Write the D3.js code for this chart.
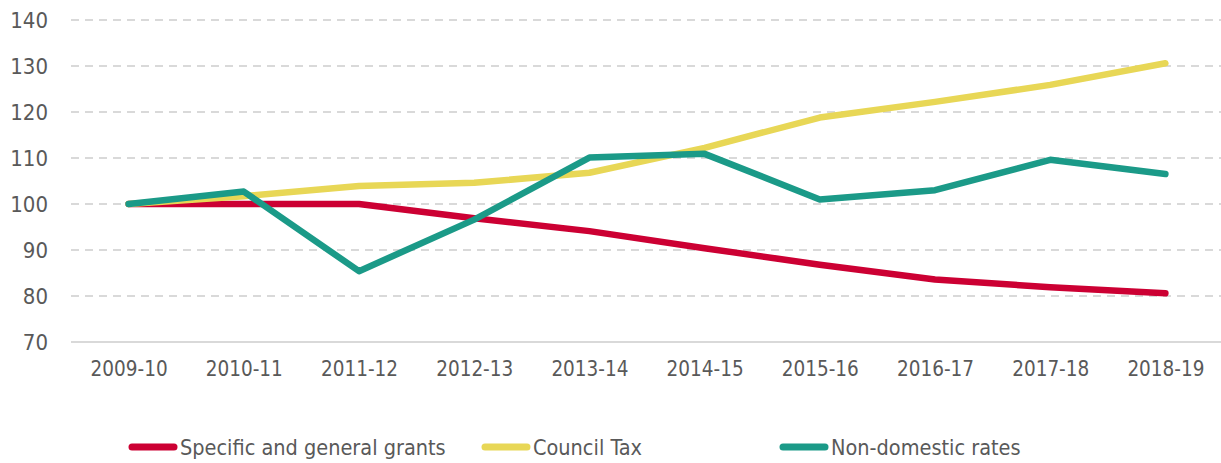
<!DOCTYPE html>
<meta charset="utf-8">
<style>
body { margin: 0; background: #fff; }
text { font-family: "Tw Cen MT", "DejaVu Sans Condensed", sans-serif; fill: #595959; }
.grid line { stroke: #d9d9d9; stroke-width: 2; stroke-dasharray: 8 6; }
.axis path, .axis line { display: none; }
.line { fill: none; stroke-width: 6.5; stroke-linecap: round; stroke-linejoin: round; }
</style>
<svg width="1221" height="463"></svg>
<script src="https://cdnjs.cloudflare.com/ajax/libs/d3/7.8.5/d3.min.js"></script>
<script>

var years = ["2009-10", "2010-11", "2011-12", "2012-13", "2013-14", "2014-15", "2015-16", "2016-17", "2017-18", "2018-19"];
var grants = [100, 100, 100, 96.9, 94.1, 90.4, 86.8, 83.6, 81.9, 80.6];
var councilTax = [100, 101.7, 103.9, 104.6, 106.8, 112.2, 118.8, 122.2, 125.9, 130.6];
var nonDomestic = [100, 102.7, 85.4, 96.6, 110.1, 110.9, 101, 103, 109.6, 106.5];
var yTicks = [70, 80, 90, 100, 110, 120, 130, 140];

var series = [
  {name: "Specific and general grants", values: grants, color: "#cc0033"},
  {name: "Council Tax", values: councilTax, color: "#e8d756"},
  {name: "Non-domestic rates", values: nonDomestic, color: "#1b9a88"}
];

var svg = d3.select("svg");

var x = d3.scalePoint()
    .domain(years)
    .range([71, 1223])
    .padding(0.5);

var y = d3.scaleLinear()
    .domain([70, 140])
    .range([342, 20]);

// gridlines
svg.append("g")
    .attr("class", "grid")
  .selectAll("line")
  .data(yTicks.filter(function(d) { return d > 70; }))
  .enter().append("line")
    .attr("x1", 71)
    .attr("x2", 1221)
    .attr("y1", function(d) { return y(d); })
    .attr("y2", function(d) { return y(d); });

// baseline
svg.append("line")
    .attr("x1", 71)
    .attr("x2", 1221)
    .attr("y1", y(70))
    .attr("y2", y(70))
    .attr("stroke", "#d9d9d9")
    .attr("stroke-width", 2);

svg.append("g")
    .attr("class", "axis")
    .attr("transform", "translate(58,0)")
    .call(d3.axisLeft(y).tickValues(yTicks).tickSize(0).tickPadding(10))
    .selectAll("text")
    .style("font-size", "22px");

svg.append("g")
    .attr("class", "axis")
    .attr("transform", "translate(0," + y(70) + ")")
    .call(d3.axisBottom(x).tickSize(0).tickPadding(19))
    .selectAll("text")
    .style("font-size", "20.5px");

svg.selectAll(".axis text").attr("fill", null);
svg.selectAll(".axis").attr("font-family", null).attr("font-size", null);

var line = d3.line()
    .x(function(d, i) { return x(years[i]); })
    .y(function(d) { return y(d); });

svg.selectAll(".line")
  .data(series)
  .enter().append("path")
    .attr("class", "line")
    .attr("stroke", function(d) { return d.color; })
    .attr("d", function(d) { return line(d.values); });

// legend
var legendX = [129, 482, 780];
var legend = svg.selectAll(".legend")
  .data(series)
  .enter().append("g")
    .attr("class", "legend")
    .attr("transform", function(d, i) { return "translate(" + legendX[i] + ",447)"; });

legend.append("line")
    .attr("x1", 3)
    .attr("x2", 45)
    .attr("stroke", function(d) { return d.color; })
    .attr("stroke-width", 7)
    .attr("stroke-linecap", "round");

legend.append("text")
    .attr("x", 51)
    .attr("dy", "0.35em")
    .style("font-size", "21.5px")
    .text(function(d) { return d.name; });

</script>
